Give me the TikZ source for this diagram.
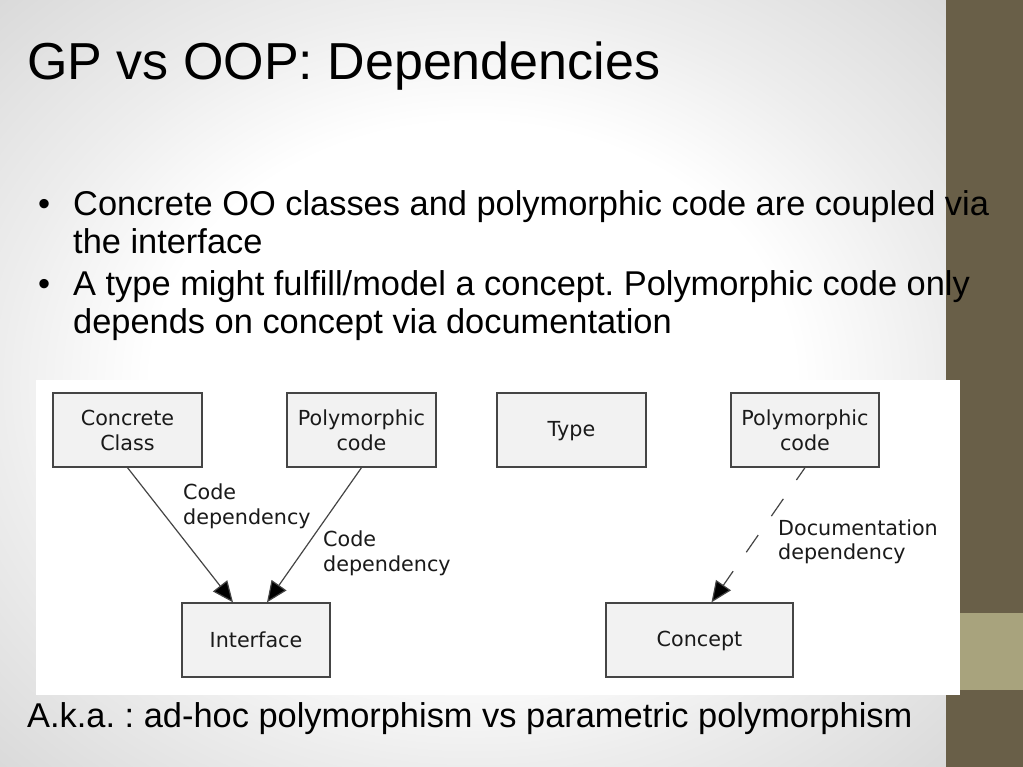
\documentclass[tikz,border=0pt]{standalone}
\usepackage{fontspec}
\setmainfont{Liberation Sans}
\newfontfamily\dejavu{DejaVu Sans}
\usetikzlibrary{arrows.meta,calc}
\frenchspacing
\definecolor{barDark}{HTML}{695F48}
\definecolor{barLight}{HTML}{A8A37D}
\definecolor{boxFill}{HTML}{F2F2F2}
\definecolor{boxLine}{HTML}{454545}
\definecolor{diagText}{HTML}{1A1A1A}
\pgfdeclareradialshading{slidebg}{\pgfpoint{0bp}{0bp}}{color(0bp)=(white); color(17bp)=(white); color(25bp)=(black!7); color(36bp)=(black!15); color(50bp)=(black!15)}
\begin{document}
\begin{tikzpicture}[x=1pt,y=-1pt,
  box/.style={draw=boxLine, fill=boxFill, line width=1.3pt, inner sep=0pt,
    minimum height=74pt, text=diagText, align=center,
    font=\dejavu\fontsize{20.7}{25}\selectfont},
  lbl/.style={anchor=north west, inner sep=0pt, align=left, text=diagText,
    font=\dejavu\fontsize{20.7}{24.5}\selectfont},
  dep/.style={draw=boxLine, line width=1.2pt, -{Triangle[length=21pt,width=18pt,fill=black]}},
  body/.style={anchor=base west, inner sep=0pt, align=left,
    font=\fontsize{34.4}{38}\selectfont}
]
\useasboundingbox (0,0) rectangle (1023,767);
% background
\shade[shading=slidebg] (0,0) rectangle (946,767);
\fill[barDark] (946,0) rectangle (1023,767);
\fill[barLight] (946,613) rectangle (1023,690);
\fill[white] (36,380) rectangle (960,695);
% title and texts
\node[anchor=base west, inner sep=0pt, font=\fontsize{52}{60}\selectfont] (title) at (27,80) {GP vs OOP: Dependencies};
\node[body] (b1) at (38,216) {\textbullet};
\node[body] (t1) at (73,254) {Concrete OO classes and polymorphic code are coupled via\\the interface};
\node[body] (b2) at (38,296) {\textbullet};
\node[body] (t2) at (73,334) {A type might fulfill/model a concept. Polymorphic code only\\depends on concept via documentation};
\node[body] (aka) at (27,727) {A.k.a. : ad-hoc polymorphism vs parametric polymorphism};
% left diagram
\node[box, minimum width=149pt] (cc) at (127.5,430) {Concrete\\Class};
\node[box, minimum width=149pt] (pc1) at (361.5,430) {Polymorphic\\code};
\node[box, minimum width=148pt] (itf) at (256,640) {Interface};
\draw[dep] (cc.south) -- ([xshift=-23pt]itf.north);
\draw[dep] (pc1.south) -- ([xshift=11pt]itf.north);
\node[lbl] (l1) at (183,484) {Code\\dependency};
\node[lbl] (l2) at (323,531) {Code\\dependency};
% right diagram
\node[box, minimum width=149pt, text depth=2pt] (type) at (571.5,430) {Type};
\node[box, minimum width=148pt] (pc2) at (805,430) {Polymorphic\\code};
\node[box, minimum width=187pt, text depth=2pt] (concept) at (699.5,640) {Concept};
\draw[dep, dash pattern=on 21pt off 23pt, dash phase=6pt] (pc2.south) -- ([xshift=12pt]concept.north);
\node[lbl] (l3) at (778,519.5) {Documentation\\dependency};
\end{tikzpicture}
\end{document}
